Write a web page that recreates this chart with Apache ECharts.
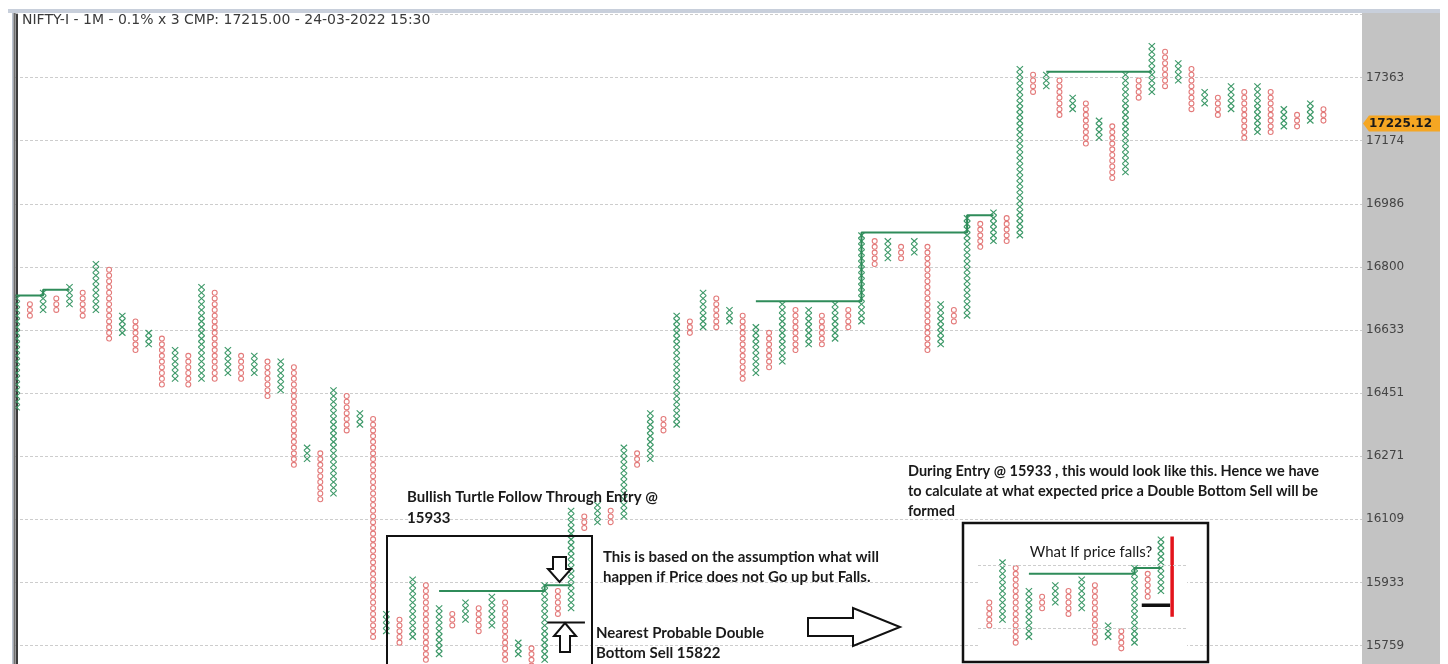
<!DOCTYPE html>
<html>
<head>
<meta charset="utf-8">
<title>NIFTY-I Point &amp; Figure</title>
<script src="https://cdn.jsdelivr.net/npm/echarts@6/dist/echarts.min.js"></script>
<style>
  html, body { margin: 0; padding: 0; background: #fff; }
  #chart { width: 1448px; height: 664px; }
</style>
</head>
<body>
<div id="chart"></div>
<script>
const chartTitle = 'NIFTY-I - 1M - 0.1% x 3 CMP: 17215.00 - 24-03-2022 15:30';

// price labels on the right axis, one every 11 boxes (0.1% box)
const tickLabels = ['15759', '15933', '16109', '16271', '16451', '16633', '16800', '16986', '17174', '17363'];
const boxesPerTick = 11;

// point & figure columns, box index (0 = 15759 line). even index = X column, odd = O column
const colLow = [
  41, 57, 58, 58, 59, 57, 58, 53, 54, 51,
  52, 45, 46, 45, 46, 46, 47, 46, 47, 43,
  44, 31, 32, 25, 26, 37, 38, 1, 2, 0,
  1, -3, -2, 3, 4, 2, 3, -3, -2, -4,
  -3, 5, 6, 20, 21, 21, 22, 31, 32, 37,
  38, 54, 55, 55, 56, 46, 47, 48, 49, 51,
  52, 52, 53, 55, 56, 66, 67, 67, 68, 51,
  52, 56, 57, 69, 70, 70, 71, 96, 97, 92,
  93, 87, 88, 81, 82, 95, 96, 97, 98, 93,
  94, 92, 93, 88, 89, 89, 90, 90, 91, 91
];
const colHigh = [
  60, 59, 61, 60, 62, 61, 66, 65, 57, 56,
  54, 53, 51, 50, 62, 61, 51, 50, 50, 49,
  49, 48, 34, 33, 44, 43, 40, 39, 5, 4,
  11, 10, 6, 5, 7, 6, 8, 7, 0, -1,
  10, 9, 23, 22, 24, 23, 34, 33, 40, 39,
  57, 56, 61, 60, 58, 57, 55, 54, 59, 58,
  58, 57, 59, 58, 71, 70, 70, 69, 70, 69,
  59, 58, 74, 73, 75, 74, 100, 99, 99, 98,
  95, 94, 91, 90, 99, 98, 104, 103, 101, 100,
  96, 95, 97, 96, 97, 96, 93, 92, 94, 93
];

// breakout (turtle) lines: [column, box level]
const breakoutLines = [
  [[-0.2, 61], [2, 61], [2, 62], [4, 62]],
  [[32, 9.5], [40, 9.5], [40, 10.5], [42, 10.5]],
  [[56, 60], [64, 60], [64, 72], [72, 72], [72, 75], [74, 75]],
  [[78, 100], [86, 100]]
];

const cmpPrice = 17225.12;
const doubleBottomSell = 15822;

// inset: copy of columns 29..41 plus the hypothetical entry column
const insetCols = [29, 41];
const insetEntryCol = [42, 6, 15];
const insetFallRange = [2, 16];

const xColor = '#3a9766';
const oColor = '#e37a7a';
const lineGreen = '#2f8c5a';

function priceToLevel(p) {
  const vals = tickLabels.map(Number);
  let i = 0;
  while (i < vals.length - 2 && p > vals[i + 1]) i++;
  return (i + Math.log(p / vals[i]) / Math.log(vals[i + 1] / vals[i])) * boxesPerTick;
}

function renderColumn(params, api) {
  const col = api.value(0), lo = api.value(1), hi = api.value(2), isX = api.value(3) === 1;
  const boxH = api.size([0, 1])[1];
  const half = api.size([1, 0])[0] * 0.24;
  const children = [];
  for (let k = lo; k <= hi; k++) {
    const c = api.coord([col, k + 0.5]);
    if (isX) {
      children.push({type: 'line', shape: {x1: c[0] - half, y1: c[1] - boxH / 2, x2: c[0] + half, y2: c[1] + boxH / 2},
        style: {stroke: xColor, lineWidth: 1.1}});
      children.push({type: 'line', shape: {x1: c[0] + half, y1: c[1] - boxH / 2, x2: c[0] - half, y2: c[1] + boxH / 2},
        style: {stroke: xColor, lineWidth: 1.1}});
    } else {
      children.push({type: 'circle', shape: {cx: c[0], cy: c[1], r: boxH / 2 - 0.4},
        style: {fill: 'none', stroke: oColor, lineWidth: 1.1}});
    }
  }
  return {type: 'group', children: children};
}

const mainData = colLow.map((lo, i) => [i, lo, colHigh[i], i % 2 === 0 ? 1 : 0]);
const insetData = mainData.slice(insetCols[0], insetCols[1] + 1)
  .concat([[insetEntryCol[0], insetEntryCol[1], insetEntryCol[2], 1]]);
const dbLevel = priceToLevel(doubleBottomSell);

function lineSeries(data, axis, color, width, z) {
  return {
    type: 'line', xAxisIndex: axis, yAxisIndex: axis, data: data,
    symbol: 'none', showSymbol: false, silent: true, animation: false, z: z || 3,
    lineStyle: {color: color, width: width}
  };
}

const chart = echarts.init(document.getElementById('chart'));

const option = {
  backgroundColor: '#fff',
  animation: false,
  title: {
    text: chartTitle, left: 20, top: 12, padding: [1, 2], backgroundColor: '#fff',
    textStyle: {fontFamily: 'DejaVu Sans', fontSize: 14, fontWeight: 'normal', color: '#3a3a3a'}
  },
  grid: [
    {left: 15, top: 14.5, width: 1347, height: 694.1, outerBoundsMode: 'none', containLabel: false},
    {left: 978, top: 530.8, width: 209, height: 131.9, outerBoundsMode: 'none', containLabel: false}
  ],
  xAxis: [
    {type: 'value', gridIndex: 0, min: -0.129, max: 101.92, show: false},
    {type: 'value', gridIndex: 1, min: 28.144, max: 43.977, show: false}
  ],
  yAxis: [
    {
      type: 'value', gridIndex: 0, position: 'right', min: -11, max: 110, interval: boxesPerTick,
      axisLine: {show: true, lineStyle: {color: '#3c3c3c', width: 2}},
      axisTick: {show: false},
      axisLabel: {
        margin: 4, color: '#444', fontSize: 12, fontFamily: 'DejaVu Sans',
        formatter: v => {
          const i = Math.round(v / boxesPerTick);
          return (i >= 0 && i < tickLabels.length) ? tickLabels[i] : '';
        }
      },
      splitLine: {show: true, lineStyle: {color: '#cdcdcd', type: [3, 2], width: 1}}
    },
    {type: 'value', gridIndex: 1, min: -6, max: 17, show: false, splitLine: {show: false}}
  ],
  series: [
    {
      type: 'custom', xAxisIndex: 0, yAxisIndex: 0, data: mainData,
      encode: {x: 0, y: [1, 2]}, renderItem: renderColumn, clip: true, silent: true, z: 2
    }
  ]
    .concat(breakoutLines.map(pts => lineSeries(pts, 0, lineGreen, 2)))
    .concat([
      lineSeries([[40.2, dbLevel], [43.05, dbLevel]], 0, '#111', 2, 4),
      {
        type: 'line', xAxisIndex: 1, yAxisIndex: 1, data: [], silent: true, z: 1.5,
        markLine: {
          silent: true, symbol: 'none', label: {show: false}, animation: false,
          lineStyle: {color: '#cdcdcd', type: [3, 2], width: 1},
          data: [{yAxis: 0}, {yAxis: boxesPerTick}]
        }
      },
      {
        type: 'custom', xAxisIndex: 1, yAxisIndex: 1, data: insetData,
        encode: {x: 0, y: [1, 2]}, renderItem: renderColumn, clip: true, silent: true, z: 2
      },
      lineSeries(breakoutLines[1], 1, lineGreen, 2),
      lineSeries([[40.55, dbLevel], [42.7, dbLevel]], 1, '#111', 3.5, 4),
      lineSeries([[42.85, insetFallRange[0]], [42.85, insetFallRange[1]]], 1, '#e3141c', 3.5, 4)
    ])
};

chart.setOption(option);

// annotations drawn over the chart
function txt(x, y, text, font, align) {
  return {
    type: 'text', z: 10, silent: true,
    style: {
      x: x, y: y, text: text, font: font, fill: '#1a1a1a',
      textAlign: align || 'left', align: align || 'left',
      textVerticalAlign: 'middle', verticalAlign: 'middle'
    }
  };
}
function poly(points) {
  return {type: 'polygon', z: 10, silent: true, shape: {points: points},
    style: {fill: '#fff', stroke: '#111', lineWidth: 2}};
}

const boldFont = 'bold 15px Lato';
const boldFontRight = 'bold 14.5px Lato';
const cmpY = chart.convertToPixel({yAxisIndex: 0}, priceToLevel(cmpPrice));

chart.setOption({
  graphic: [
    // right axis panel, top bar and left border
    {type: 'rect', z: -10, silent: true, shape: {x: 1362, y: 13, width: 78, height: 651}, style: {fill: '#c3c3c3'}},
    {type: 'rect', z: 9, silent: true, shape: {x: 8, y: 9, width: 1432, height: 4}, style: {fill: '#c8cfdb'}},
    {type: 'rect', z: 9, silent: true, shape: {x: 12, y: 13, width: 1.5, height: 651}, style: {fill: '#b9c2cf'}},
    {type: 'rect', z: 9, silent: true, shape: {x: 13.5, y: 13, width: 2.2, height: 651}, style: {fill: '#6e6e6e'}},
    // current price marker
    {type: 'polygon', z: 10, silent: true,
      shape: {points: [[1363, cmpY], [1369, cmpY - 8], [1440, cmpY - 8], [1440, cmpY + 8], [1369, cmpY + 8]]},
      style: {fill: '#f5a623'}},
    txt(1369, cmpY, String(cmpPrice), 'bold 12px DejaVu Sans'),
    // left annotation box
    {type: 'rect', z: 10, silent: true, shape: {x: 387, y: 536, width: 205, height: 150},
      style: {fill: 'none', stroke: '#111', lineWidth: 2}},
    txt(407, 497, 'Bullish Turtle Follow Through Entry @', boldFont),
    txt(407, 518, '15933', boldFont),
    poly([[553, 557], [566, 557], [566, 569], [571, 569], [559.5, 582], [548, 569], [553, 569]]),
    poly([[565, 623], [576, 636], [570, 636], [570, 652], [560, 652], [560, 636], [554, 636]]),
    txt(603, 557, 'This is based on the assumption what will', boldFont),
    txt(603, 577, 'happen if Price does not Go up but Falls.', boldFont),
    txt(596, 633, 'Nearest Probable Double', boldFont),
    txt(596, 653, 'Bottom Sell 15822', boldFont),
    poly([[808, 618], [853, 618], [853, 608], [900, 627], [853, 646], [853, 636], [808, 636]]),
    txt(908, 471, 'During Entry @ 15933 , this would look like this. Hence we have', boldFontRight),
    txt(908, 491, 'to calculate at what expected price a Double Bottom Sell will be', boldFontRight),
    txt(908, 511, 'formed', boldFontRight),
    // right inset box
    {type: 'rect', z: 1, silent: true, shape: {x: 978, y: 526, width: 209, height: 134}, style: {fill: '#fff'}},
    {type: 'rect', z: 10, silent: true, shape: {x: 963, y: 523, width: 245, height: 139},
      style: {fill: 'none', stroke: '#111', lineWidth: 2.5}},
    txt(1091, 552, 'What If price falls?', '15px Lato', 'center')
  ]
});
</script>
</body>
</html>
